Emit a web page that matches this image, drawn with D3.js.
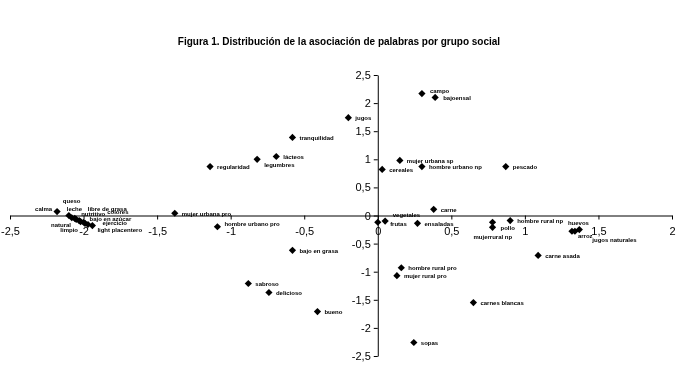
<!DOCTYPE html>
<html>
<head>
<meta charset="utf-8">
<script src="https://cdn.jsdelivr.net/npm/d3@7"></script>
<style>
  body { margin: 0; background: #fff; }
  svg { will-change: transform; }
  .tick text { font-family: Arial, "Liberation Sans", sans-serif; }
</style>
</head>
<body>
<div class="scatter"></div>
<script>
//Width and height
var w = 688;
var h = 372;

//Data
var words = ["campo", "bajoensal", "jugos", "tranquilidad", "lácteos", "legumbres", "regularidad",
    "mujer urbana sp", "cereales", "hombre urbano np", "pescado", "carne", "vegetales", "frutas",
    "ensaladas", "pollo", "mujerrural np", "hombre rural np", "huevos", "arroz", "jugos naturales",
    "carne asada", "hombre rural pro", "mujer rural pro", "carnes blancas", "sopas", "bajo en grasa",
    "sabroso", "delicioso", "bueno", "mujer urbana pro", "hombre urbano pro", "calma", "queso",
    "leche", "libre de grasa", "colores", "nutritivo", "bajo en azúcar", "ejercicio", "natural",
    "limpio", "light placentero"];
var dim1 = [0.30, 0.39, -0.20, -0.58, -0.69, -0.82, -1.14,
    0.15, 0.03, 0.30, 0.87, 0.38, 0.00, 0.05,
    0.27, 0.78, 0.78, 0.90, 1.32, 1.34, 1.37,
    1.09, 0.16, 0.13, 0.65, 0.245, -0.58,
    -0.88, -0.74, -0.41, -1.38, -1.09, -2.18, -2.10,
    -2.08, -2.06, -2.05, -2.03, -2.02, -2.00, -1.99,
    -1.97, -1.94];
var dim2 = [2.17, 2.10, 1.74, 1.39, 1.05, 1.00, 0.87,
    0.98, 0.82, 0.87, 0.87, 0.11, -0.12, -0.10,
    -0.14, -0.12, -0.21, -0.09, -0.28, -0.28, -0.25,
    -0.71, -0.93, -1.07, -1.55, -2.26, -0.62,
    -1.21, -1.37, -1.71, 0.04, -0.20, 0.07, 0.00,
    -0.04, -0.05, -0.07, -0.09, -0.11, -0.12, -0.14,
    -0.16, -0.18];
var xTicks = [-2.5, -2, -1.5, -1, -0.5, 0, 0.5, 1, 1.5, 2];
var yTicks = [-2.5, -2, -1.5, -1, -0.5, 0, 0.5, 1, 1.5, 2, 2.5];

//Label placement (layout only)
var labelPos = {
    "campo": [8, -1], "bajoensal": [8, 2.5], "legumbres": [7, 7.5],
    "vegetales": [15, -5.5], "frutas": [5, 4.5], "pollo": [8, 8],
    "mujerrural np": [-19, 12, "start"], "hombre rural np": [7, 2],
    "huevos": [-4, -6.5], "arroz": [3, 6.5], "jugos naturales": [13, 12.5],
    "hombre urbano pro": [7, -0.5], "calma": [-5, -1, "end"],
    "queso": [-6, -12.5], "leche": [-5, -6.5], "libre de grasa": [13, -7.5],
    "colores": [31, -5.5], "nutritivo": [2, -4.5], "bajo en azúcar": [9, -0.5],
    "ejercicio": [19, 2.5], "natural": [-14, 3.5, "end"], "limpio": [-10, 7.5, "end"],
    "light placentero": [5, 6.5]
};

var dataset = words.map((d, i) => ({ name: d, x: dim1[i], y: dim2[i] }));

//Create SVG element
var svg = d3.select(".scatter")
    .append("svg")
    .attr("width", w)
    .attr("height", h);

//Title
svg.append("text")
    .attr("x", 339)
    .attr("y", 45)
    .attr("text-anchor", "middle")
    .style("font-family", "'Liberation Sans Narrow', 'Arial Narrow', Arial, sans-serif")
    .style("font-weight", "bold")
    .style("font-size", "10px")
    .text("Figura 1. Distribución de la asociación de palabras por grupo social");

//Scales
var xScale = d3.scaleLinear()
    .domain([-2.5, 2])
    .range([10, 672]);

var yScale = d3.scaleLinear()
    .domain([-2.5, 2.5])
    .range([356, 75]);

var fmt = (d) => String(d).replace(".", ",");

//Axes crossing at the origin
var xAxis = d3.axisBottom(xScale)
    .tickValues(xTicks)
    .tickSize(4)
    .tickSizeOuter(0)
    .tickFormat(fmt);
var gx = svg.append("g")
    .attr("id", "x-axis")
    .attr("transform", "translate(0, " + yScale(0) + ")")
    .call(xAxis);
gx.selectAll(".tick text")
    .attr("dy", "1.1em")
    .style("font-size", "11px")
    .attr("fill", "#000");

var yAxis = d3.axisLeft(yScale)
    .tickValues(yTicks)
    .tickSize(4)
    .tickSizeOuter(0)
    .tickFormat(fmt);
var gy = svg.append("g")
    .attr("id", "y-axis")
    .attr("transform", "translate(" + xScale(0) + ", 0)")
    .call(yAxis);
gy.selectAll(".tick text")
    .style("font-size", "11px")
    .attr("fill", "#000");

svg.selectAll(".domain, .tick line").attr("stroke", "#000");

//Points
var diamond = d3.symbol().type(d3.symbolSquare).size(26);
svg.selectAll("path.pt")
    .data(dataset)
    .enter()
    .append("path")
    .attr("class", "pt")
    .attr("d", diamond)
    .attr("transform", (d) => "translate(" + xScale(d.x) + "," + yScale(d.y) + ") rotate(45)")
    .attr("fill", "#000");

//Labels
svg.selectAll("text.lbl")
    .data(dataset)
    .enter()
    .append("text")
    .attr("class", "lbl")
    .attr("x", (d) => xScale(d.x) + (labelPos[d.name] ? labelPos[d.name][0] : 7))
    .attr("y", (d) => yScale(d.y) + (labelPos[d.name] ? labelPos[d.name][1] : 2.5))
    .attr("text-anchor", (d) => (labelPos[d.name] && labelPos[d.name][2]) || "start")
    .attr("fill", "#000")
    .style("font-family", "Arial, 'Liberation Sans', sans-serif")
    .style("font-weight", "bold")
    .style("font-size", "6px")
    .text((d) => d.name);
</script>
</body>
</html>
